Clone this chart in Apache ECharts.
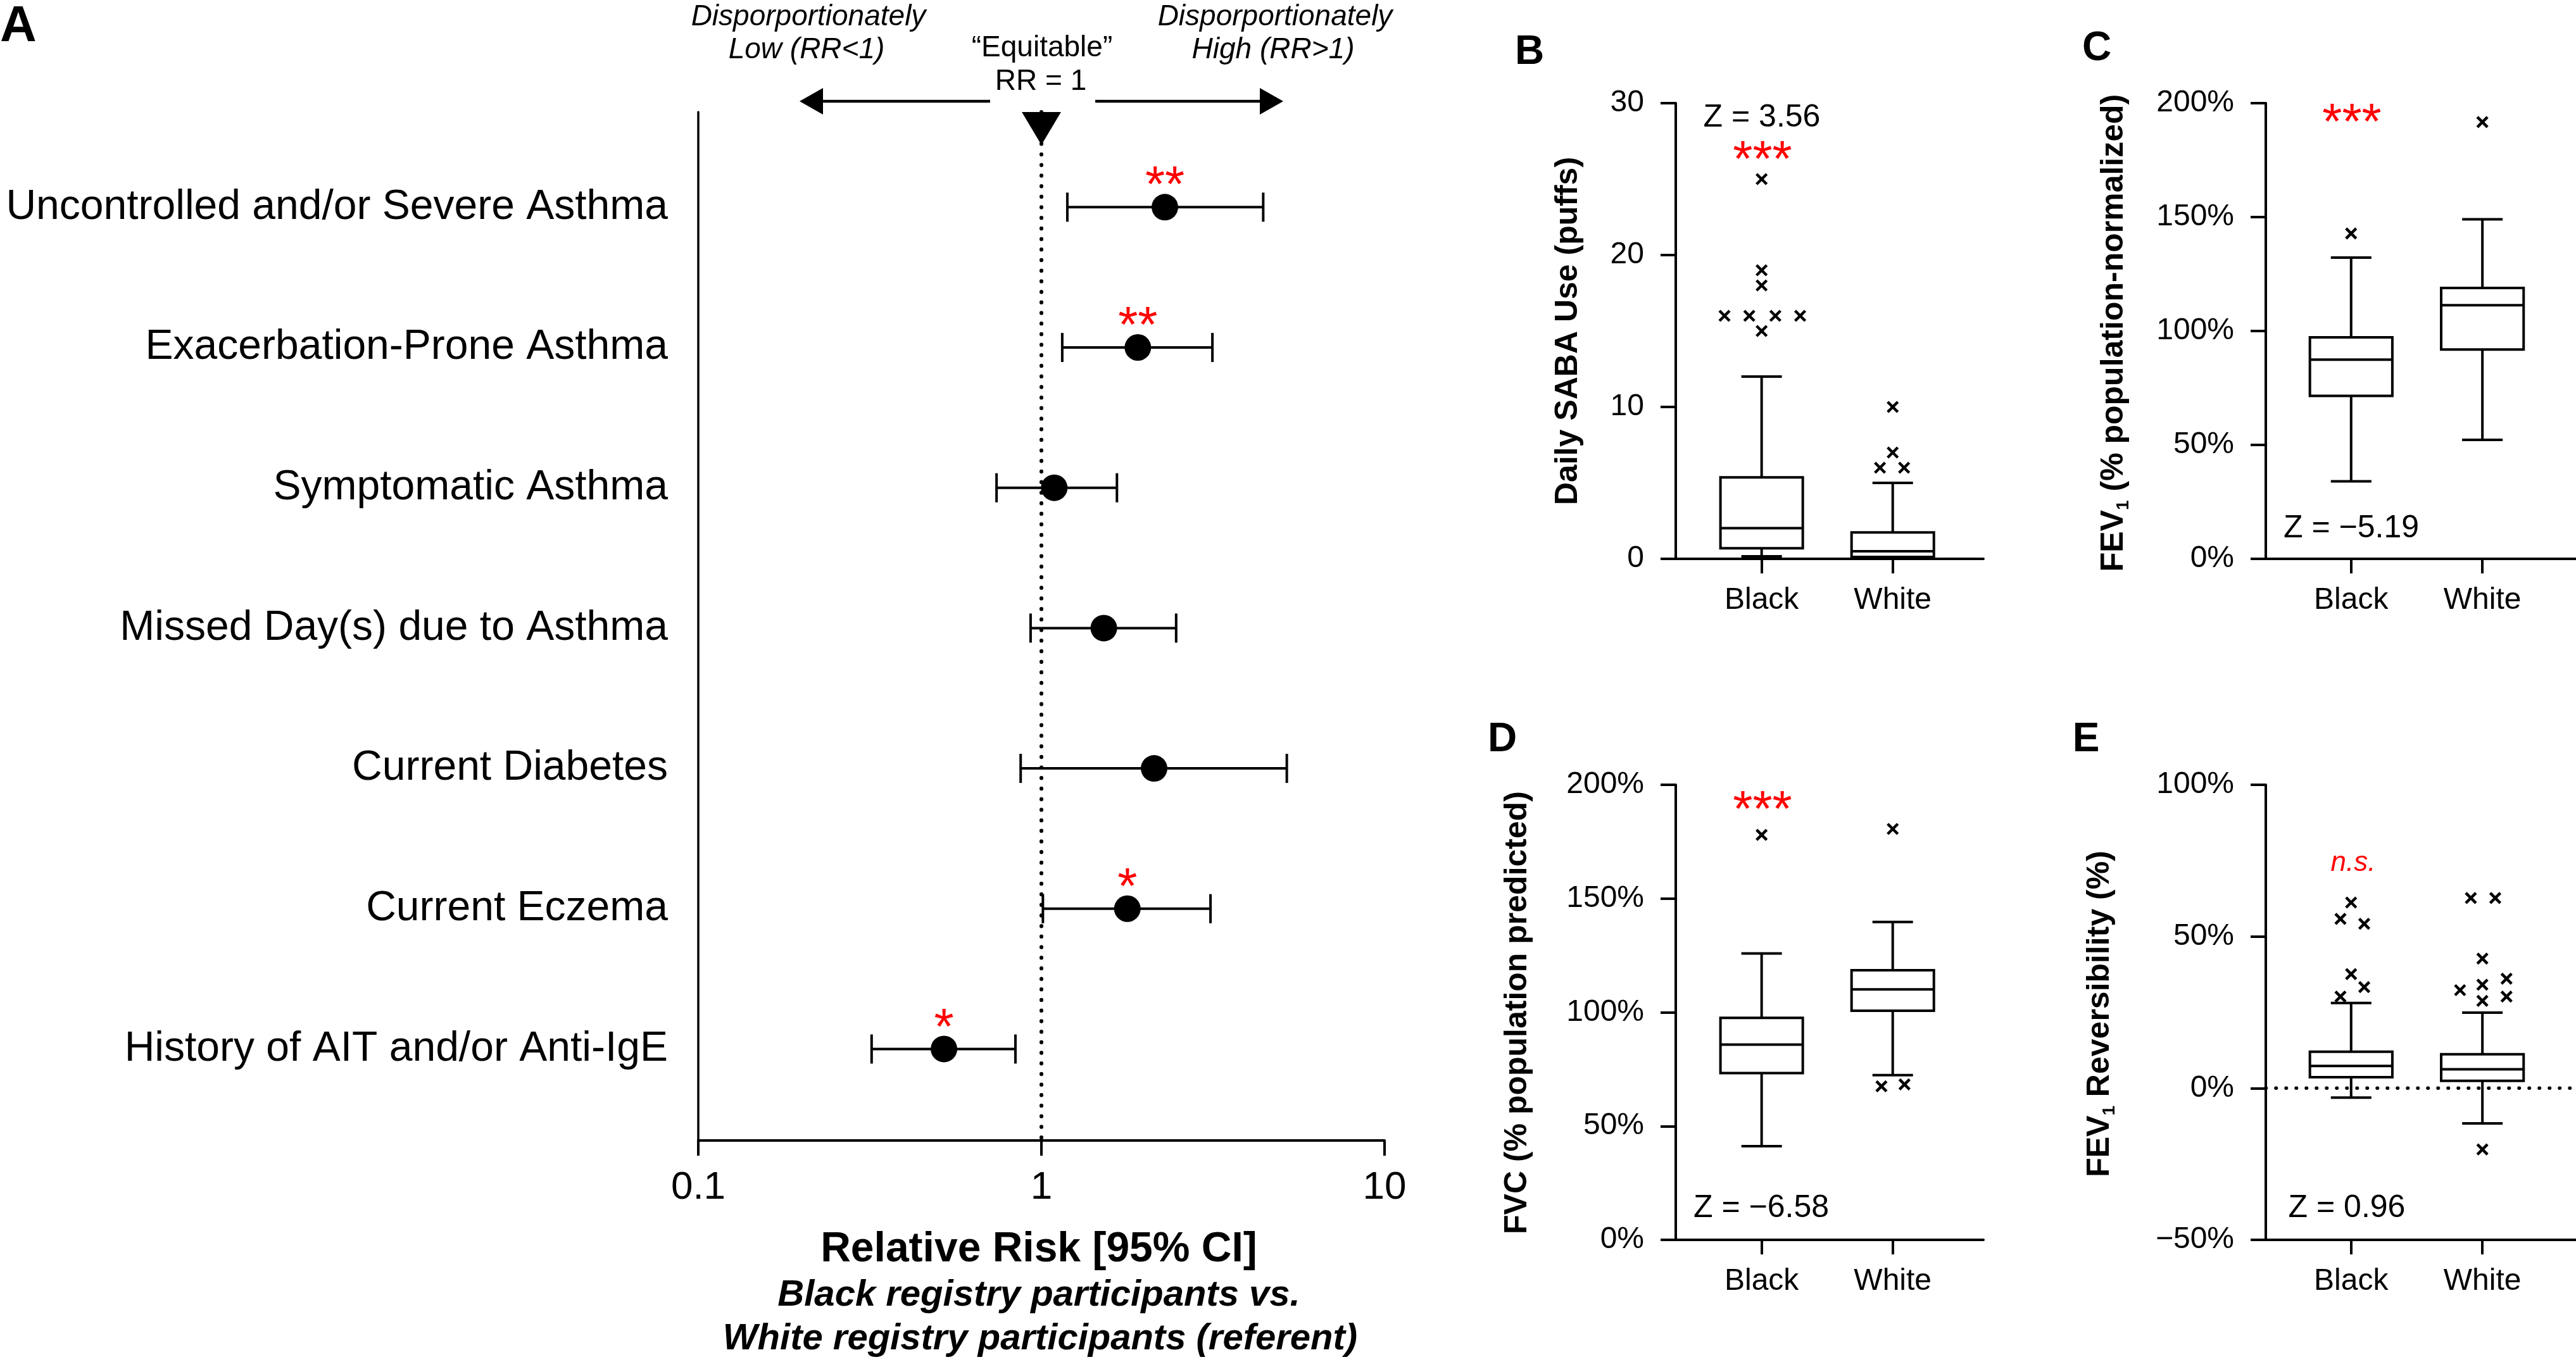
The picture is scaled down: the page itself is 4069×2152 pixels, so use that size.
<!DOCTYPE html>
<html><head><meta charset="utf-8">
<script src="https://cdn.jsdelivr.net/npm/echarts@6/dist/echarts.min.js"></script>
<style>html,body{margin:0;padding:0;background:#fff}#c{width:4069px;height:2152px}</style>
</head><body><div id="c"></div>
<script>
// ---------- Panel A data ----------
const categories = ['Uncontrolled and/or Severe Asthma','Exacerbation-Prone Asthma','Symptomatic Asthma','Missed Day(s) due to Asthma','Current Diabetes','Current Eczema','History of AIT and/or Anti-IgE'];
const rr     = [2.29, 1.91, 1.09, 1.52, 2.13, 1.78, 0.52];
const ciLow  = [1.19, 1.15, 0.74, 0.93, 0.87, 1.01, 0.32];
const ciHigh = [4.43, 3.15, 1.66, 2.47, 5.19, 3.11, 0.84];
const rrStars = ['**','**','','','','*','*'];
const rrTicks = [0.1, 1, 10];

// ---------- Box panels data: [low whisker, Q1, median, Q3, high whisker] ----------
const groups = ['Black','White'];
const sabaBox = [[0.17, 0.70, 2.02, 5.36, 12.0], [0.0, 0.12, 0.5, 1.74, 5.0]];
const sabaOut = [[1,25],[1,19],[1,18],[0.717,16],[0.906,16],[1.105,16],[1.294,16],[1,15],[2,10],[2,7],[1.903,6],[2.087,6]];
const fev1Box = [[34.0, 71.5, 87.4, 97.2, 132.2], [52.2, 91.9, 111.3, 118.9, 149.0]];
const fev1Out = [[1,142.8],[2,191.7]];
const fvcBox  = [[41.2, 73.3, 85.8, 97.6, 125.9], [72.4, 100.7, 110.1, 118.5, 139.7]];
const fvcOut  = [[1,178.0],[2,180.6],[1.914,67.5],[2.09,68.3]];
const revBox  = [[-3.1, 3.6, 7.3, 12.0, 28.1], [-11.6, 2.4, 6.2, 11.2, 24.9]];
const revOut  = [[0.919,55.8],[1,61.2],[1.1,54.2],[1,37.6],[1.1,33.3],[0.919,30.2],
                 [1.912,62.7],[2.098,62.7],[2,42.7],[1.83,32.3],[2,34.1],[2.184,36.1],[2,28.8],[2.184,30.2],[2,-20.2]];
const zStats = ['Z = 3.56', 'Z = \u22125.19', 'Z = \u22126.58', 'Z = 0.96'];
const sigMarks = ['***', '***', '***', 'n.s.'];

const FONT = '"Liberation Sans", Arial, Helvetica, sans-serif';
const BOX_W = 0.628, CAP_W = 0.309;

function boxRender(params, api) {
  const x = api.value(0);
  const lo = api.coord([x, api.value(1)]), q1 = api.coord([x, api.value(2)]),
        md = api.coord([x, api.value(3)]), q3 = api.coord([x, api.value(4)]),
        hi = api.coord([x, api.value(5)]);
  const bw = api.size([BOX_W, 0])[0] / 2, cw = api.size([CAP_W, 0])[0] / 2;
  const cx = lo[0];
  const st = {stroke:'#000', lineWidth:4, fill:null};
  return {type:'group', children:[
    {type:'line', shape:{x1:cx,y1:hi[1],x2:cx,y2:q3[1]}, style:st},
    {type:'line', shape:{x1:cx,y1:q1[1],x2:cx,y2:lo[1]}, style:st},
    {type:'line', shape:{x1:cx-cw,y1:hi[1],x2:cx+cw,y2:hi[1]}, style:st},
    {type:'line', shape:{x1:cx-cw,y1:lo[1],x2:cx+cw,y2:lo[1]}, style:st},
    {type:'rect', shape:{x:cx-bw,y:q3[1],width:2*bw,height:q1[1]-q3[1]}, style:{stroke:'#000',lineWidth:4,fill:'#fff'}},
    {type:'line', shape:{x1:cx-bw,y1:md[1],x2:cx+bw,y2:md[1]}, style:st}
  ]};
}
function crossRender(params, api) {
  const p = api.coord([api.value(0), api.value(1)]);
  const h = 8, st = {stroke:'#000', lineWidth:4.5};
  return {type:'group', children:[
    {type:'line', shape:{x1:p[0]-h,y1:p[1]-h,x2:p[0]+h,y2:p[1]+h}, style:st},
    {type:'line', shape:{x1:p[0]-h,y1:p[1]+h,x2:p[0]+h,y2:p[1]-h}, style:st}
  ]};
}
function errRender(params, api) {
  const row = api.value(2);
  const a = api.coord([api.value(0), row]), b = api.coord([api.value(1), row]);
  const h = 23, st = {stroke:'#000', lineWidth:4};
  return {type:'group', children:[
    {type:'line', shape:{x1:a[0],y1:a[1],x2:b[0],y2:b[1]}, style:st},
    {type:'line', shape:{x1:a[0],y1:a[1]-h,x2:a[0],y2:a[1]+h}, style:st},
    {type:'line', shape:{x1:b[0],y1:b[1]-h,x2:b[0],y2:b[1]+h}, style:st}
  ]};
}

const pctFmt = v => (v < 0 ? '\u2212' + (-v) : String(v)) + '%';
function boxYAxis(gi, min, max, interval, fmt) {
  return {type:'value', gridIndex:gi, min, max, interval,
    axisLine:{show:true, onZero:false, lineStyle:{color:'#000', width:4}},
    axisTick:{show:true, length:24, lineStyle:{color:'#000', width:4}},
    axisLabel:{color:'#000', fontSize:48, fontFamily:FONT, margin:50, formatter:fmt},
    splitLine:{show:false}};
}
function boxXAxis(gi, min, max) {
  return {type:'value', gridIndex:gi, min, max,
    axisLine:{show:true, onZero:false, lineStyle:{color:'#000', width:4}},
    axisTick:{show:true, length:23, customValues:[1,2], lineStyle:{color:'#000', width:4}},
    axisLabel:{color:'#000', fontSize:48, fontFamily:FONT, margin:42, customValues:[1,2],
               formatter: v => groups[Math.round(v) - 1]},
    splitLine:{show:false}};
}
function boxSeries(idx, box, out) {
  return [
    {type:'custom', xAxisIndex:idx, yAxisIndex:idx, renderItem:boxRender, z:3,
     encode:{x:0, y:[1,2,3,4,5]}, data: box.map((b, i) => [i + 1].concat(b))},
    {type:'custom', xAxisIndex:idx, yAxisIndex:idx, renderItem:crossRender, z:4,
     encode:{x:0, y:1}, data: out}
  ];
}
function T(text, x, y, size, o) {
  o = o || {};
  return {type:'text', x, y, rotation:o.rot || 0, z:10,
    style:{text, fontSize:size, fontFamily:FONT, fontWeight:o.bold ? 'bold' : 'normal',
      fontStyle:o.italic ? 'italic' : 'normal', fill:o.color || '#000',
      align:'center', verticalAlign:'middle', rich:o.rich, lineHeight:o.lh}};
}
const subRich = {sub:{fontSize:28, fontWeight:'bold', fontFamily:FONT, verticalAlign:'bottom', lineHeight:28, fill:'#000'}};

const option = {
  backgroundColor:'#fff',
  animation:false,
  grid:[
    {left:1103, top:177, width:1084, height:1625},
    {left:2647, top:163, width:486, height:720},
    {left:3579, top:163, width:490, height:720},
    {left:2647, top:1240, width:486, height:719},
    {left:3579, top:1240, width:490, height:719}
  ],
  xAxis:[
    {type:'log', gridIndex:0, min:0.1, max:10, logBase:10,
     axisLine:{show:true, onZero:false, lineStyle:{color:'#000', width:4}},
     axisTick:{show:true, length:24, customValues:rrTicks, lineStyle:{color:'#000', width:4}},
     axisLabel:{color:'#000', fontSize:62, fontFamily:FONT, margin:44, customValues:rrTicks,
                formatter: v => (v < 1 ? '0.1' : String(Math.round(v)))},
     splitLine:{show:false}, minorTick:{show:false}},
    boxXAxis(1, 0.345, 2.692),
    boxXAxis(2, 0.350, 2.713),
    boxXAxis(3, 0.345, 2.692),
    boxXAxis(4, 0.350, 2.713)
  ],
  yAxis:[
    {type:'value', gridIndex:0, inverse:true, min:-0.678, max:6.652,
     axisLine:{show:true, onZero:false, lineStyle:{color:'#000', width:3.5}},
     axisTick:{show:false},
     axisLabel:{color:'#000', fontSize:66, fontFamily:FONT, margin:48, customValues:[0,1,2,3,4,5,6],
                formatter: v => categories[Math.round(v)]},
     splitLine:{show:false}},
    boxYAxis(1, 0, 30, 10, v => String(v)),
    boxYAxis(2, 0, 200, 50, pctFmt),
    boxYAxis(3, 0, 200, 50, pctFmt),
    boxYAxis(4, -50, 100, 50, pctFmt)
  ],
  series:[
    // RR = 1 reference (dotted)
    {type:'line', xAxisIndex:0, yAxisIndex:0, data:[[1,-0.678],[1,6.652]], symbol:'none', z:1,
     lineStyle:{color:'#000', width:6, type:[0.5,16.2], cap:'round'}, silent:true},
    {type:'custom', xAxisIndex:0, yAxisIndex:0, renderItem:errRender, z:2,
     encode:{x:[0,1], y:2}, data: categories.map((c, i) => [ciLow[i], ciHigh[i], i])},
    {type:'scatter', xAxisIndex:0, yAxisIndex:0, symbol:'circle', symbolSize:42, z:3,
     itemStyle:{color:'#000', opacity:1}, data: rr.map((v, i) => [v, i]),
     label:{show:true, position:'inside', offset:[0,-31], color:'#f00', fontSize:80, fontFamily:FONT,
            formatter: p => rrStars[p.dataIndex]}},
    // Panel E zero reference (dotted)
    {type:'line', xAxisIndex:4, yAxisIndex:4, data:[[0.35,0],[2.713,0]], symbol:'none', z:1,
     lineStyle:{color:'#000', width:5.5, type:[0.5,15.5], cap:'round'}, silent:true}
  ].concat(boxSeries(1, sabaBox, sabaOut), boxSeries(2, fev1Box, fev1Out),
           boxSeries(3, fvcBox, fvcOut), boxSeries(4, revBox, revOut)),
  graphic:[
    T('A', 29, 43, 80, {bold:true}),
    T('B', 2416, 83, 64, {bold:true}),
    T('C', 3312, 77, 64, {bold:true}),
    T('D', 2373, 1169, 64, {bold:true}),
    T('E', 3295, 1169, 64, {bold:true}),
    T('Disporportionately', 1277, 27, 46, {italic:true}),
    T('Low (RR<1)', 1274, 79, 46, {italic:true}),
    T('\u201CEquitable\u201D', 1646, 76, 46),
    T('RR = 1', 1644, 129, 46),
    T('Disporportionately', 2014, 27, 46, {italic:true}),
    T('High (RR>1)', 2011, 79, 46, {italic:true}),
    {type:'line', shape:{x1:1564, y1:160, x2:1290, y2:160}, style:{stroke:'#000', lineWidth:4.5}},
    {type:'polygon', shape:{points:[[1263,160],[1300,139],[1300,181]]}, style:{fill:'#000'}},
    {type:'line', shape:{x1:1730, y1:160, x2:2000, y2:160}, style:{stroke:'#000', lineWidth:4.5}},
    {type:'polygon', shape:{points:[[2027,160],[1990,139],[1990,181]]}, style:{fill:'#000'}},
    {type:'polygon', shape:{points:[[1614,177],[1676,177],[1645,229]]}, style:{fill:'#000'}, z:10},
    T('Relative Risk [95% CI]', 1641, 1975, 66, {bold:true}),
    T('Black registry participants vs.', 1641, 2047, 58, {bold:true, italic:true}),
    T('White registry participants (referent)', 1643, 2116, 58, {bold:true, italic:true}),
    T('Daily SABA Use (puffs)', 2477, 523, 50, {bold:true, rot:Math.PI/2}),
    T('FEV{sub|1} (% population-normalized)', 3339, 526, 50, {bold:true, rot:Math.PI/2, rich:subRich, lh:58}),
    T('FVC (% population predicted)', 2397, 1600, 50, {bold:true, rot:Math.PI/2}),
    T('FEV{sub|1} Reversibility (%)', 3317, 1602, 50, {bold:true, rot:Math.PI/2, rich:subRich, lh:58}),
    T(zStats[0], 2783, 186, 50),
    T(zStats[1], 3714, 835, 50),
    T(zStats[2], 2782, 1909, 50),
    T(zStats[3], 3707, 1909, 50),
    T(sigMarks[0], 2784, 256, 80, {color:'#f00'}),
    T(sigMarks[1], 3715, 197, 80, {color:'#f00'}),
    T(sigMarks[2], 2784, 1283, 80, {color:'#f00'}),
    T(sigMarks[3], 3717, 1364, 44, {color:'#f00', italic:true})
  ]
};
const chart = echarts.init(document.getElementById('c'), null, {renderer:'canvas', width:4069, height:2152});
chart.setOption(option);
</script></body></html>
